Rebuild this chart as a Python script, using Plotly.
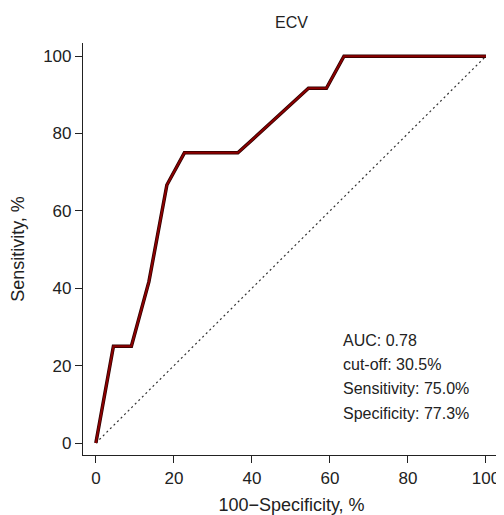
import plotly.graph_objects as go

fpr = [0, 4.5, 9.1, 13.6, 18.2, 22.7, 36.4, 45.5, 54.5, 59.1, 63.6, 100]
tpr = [0, 25.0, 25.0, 41.7, 66.7, 75.0, 75.0, 83.3, 91.7, 91.7, 100, 100]
ref_x = [0, 100]
ref_y = [0, 100]
stats = ["AUC: 0.78", "cut-off: 30.5%", "Sensitivity: 75.0%", "Specificity: 77.3%"]
stat_y = [26.4, 20.2, 14.0, 7.6]
tick_vals = [0, 20, 40, 60, 80, 100]

FONT = "Liberation Sans, Arial, Helvetica, sans-serif"
TXT = "#222222"

fig = go.Figure()
fig.add_trace(go.Scatter(x=ref_x, y=ref_y, mode="lines",
                         line=dict(color="#333333", width=1.2, dash="2px,3px"),
                         showlegend=False, hoverinfo="skip"))
fig.add_trace(go.Scatter(x=fpr, y=tpr, mode="lines",
                         line=dict(color="#2a0000", width=3.5),
                         showlegend=False, hoverinfo="skip"))
fig.add_trace(go.Scatter(x=fpr, y=tpr, mode="lines",
                         line=dict(color="#8b0000", width=2),
                         showlegend=False))

for s, yv in zip(stats, stat_y):
    fig.add_annotation(x=63.3, y=yv, text=s, showarrow=False, xanchor="left",
                       yanchor="middle", xshift=-2,
                       font=dict(size=16, color=TXT, family=FONT))

axis_common = dict(
    showline=True, linecolor=TXT, linewidth=1.2, mirror=False,
    ticks="outside", ticklen=7, tickwidth=1.2, tickcolor=TXT,
    showgrid=False, zeroline=False, tickvals=tick_vals, automargin=False,
    tickfont=dict(size=17, color=TXT, family=FONT),
)

fig.update_layout(
    width=504, height=515,
    margin=dict(l=75, r=12, t=35, b=68),
    plot_bgcolor="white", paper_bgcolor="white",
    title=dict(text="ECV", x=0.5, xanchor="center", xref="paper",
               y=1 - 14 / 515, yref="container",
               yanchor="middle", font=dict(size=16, color=TXT, family=FONT)),
    xaxis=dict(range=[-3.3, 103.6],
               title=dict(text="100\u2212Specificity, %", standoff=11,
                          font=dict(size=18, color=TXT, family=FONT)),
               **axis_common),
    yaxis=dict(range=[-3.1, 103.4],
               title=dict(text="Sensitivity, %",
                          font=dict(size=18, color=TXT, family=FONT)),
               **axis_common),
)

fig.write_html("out.html")
